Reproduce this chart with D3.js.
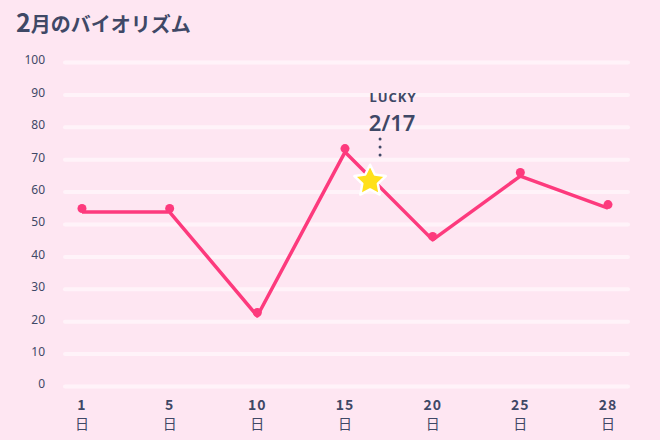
<!DOCTYPE html>
<html>
<head>
<meta charset="utf-8">
<script src="https://cdn.jsdelivr.net/npm/d3@7"></script>
<style>
  body { margin:0; background:#fee6f2; }
  svg { display:block; }
</style>
</head>
<body>
<div id="chart"></div>
<script>
// 2月のバイオリズム
var days = ["1", "5", "10", "15", "20", "25", "28"];
var values = [53.7, 53.7, 21.6, 72.2, 45.1, 64.8, 54.9];
var yTicks = [0, 10, 20, 30, 40, 50, 60, 70, 80, 90, 100];
var luckyDay = 17;

var width = 660, height = 440;
var ink = "#3f4866", pink = "#fd3a7d";

var svg = d3.select("#chart")
			.append("svg")
			.attr("width", width)
			.attr("height", height);

svg.append("rect")
	.attr("width", width)
	.attr("height", height)
	.style("fill", "#fee6f2");

// title
var title = svg.append("text")
			.attr("x", 16)
			.attr("y", 32)
			.style("fill", ink)
			.style("font-family", "'Noto Sans CJK JP', sans-serif")
			.style("font-weight", "bold");
title.append("tspan").text("2").style("font-size", "25px");
title.append("tspan").text("月のバイオリズム").style("font-size", "20px");

var x = d3.scalePoint()
		.domain(days)
		.range([82, 608]);
var y = d3.scaleLinear()
		.domain([0, 100])
		.range([386, 62]);

// grid + y labels
var yAxis = svg.append("g")
		.attr("transform", "translate(65,0)")
		.call(d3.axisLeft(y).tickValues(yTicks).tickSize(-563).tickPadding(20));
yAxis.select(".domain").remove();
yAxis.selectAll("line")
	.style("stroke", "#fff3f9")
	.style("stroke-width", 4)
	.style("stroke-linecap", "round");
yAxis.selectAll("text")
	.attr("dy", "0.15em")
	.style("fill", ink)
	.style("font-family", "'Noto Sans', sans-serif")
	.style("font-size", "12px");

// x labels: number on top, 日 underneath
var xl = svg.append("g").selectAll("g")
		.data(days)
		.enter().append("g")
		.style("fill", ink)
		.style("font-family", "'Noto Sans CJK JP', sans-serif");
xl.append("text")
	.attr("x", function(d){ return x(d); })
	.attr("y", 410)
	.attr("text-anchor", "middle")
	.style("font-size", "14px")
	.style("font-weight", "bold")
	.style("letter-spacing", "1px")
	.text(function(d){ return d; });
xl.append("text")
	.attr("x", function(d){ return x(d); })
	.attr("y", 429)
	.attr("text-anchor", "middle")
	.style("font-size", "14px")
	.text("日");

// line
var line = d3.line()
		.x(function(d, i){ return x(days[i]); })
		.y(function(d){ return y(d); });
svg.append("path")
	.datum(values)
	.attr("d", line)
	.style("fill", "none")
	.style("stroke", pink)
	.style("stroke-width", 3.5)
	.style("stroke-linejoin", "round");

svg.append("g").selectAll("circle")
	.data(values)
	.enter().append("circle")
	.attr("cx", function(d, i){ return x(days[i]); })
	.attr("cy", function(d){ return y(d) - 3.5; })
	.attr("r", 4.5)
	.style("fill", pink);

// lucky star, placed on the line between 15 and 20
var i0 = days.indexOf("15"), i1 = days.indexOf("20");
var t = (luckyDay - 15) / (20 - 15);
var sx = x(days[i0]) + t * (x(days[i1]) - x(days[i0]));
var sy = y(values[i0] + t * (values[i1] - values[i0])) - 6;

var starPts = d3.range(10).map(function(k){
	return [k * Math.PI / 5, k % 2 ? 8.2 : 16.5];
});
svg.append("path")
	.attr("transform", "translate(" + (sx - 10) + "," + sy + ")")
	.attr("d", d3.lineRadial().curve(d3.curveLinearClosed)(starPts))
	.style("fill", "#ffe01b")
	.style("stroke", "#fff")
	.style("stroke-width", 2.5)
	.style("stroke-linejoin", "round");

svg.append("g").selectAll("circle")
	.data([0, 1, 2])
	.enter().append("circle")
	.attr("cx", sx)
	.attr("cy", function(d){ return 139 + d * 8; })
	.attr("r", 1.5)
	.style("fill", ink);

svg.append("text")
	.attr("x", sx + 13)
	.attr("y", 102)
	.attr("text-anchor", "middle")
	.text("LUCKY")
	.style("fill", ink)
	.style("font-family", "'Noto Sans', sans-serif")
	.style("font-weight", "bold")
	.style("font-size", "13px")
	.style("letter-spacing", "1px");
svg.append("text")
	.attr("x", sx + 12)
	.attr("y", 131)
	.attr("text-anchor", "middle")
	.text("2/17")
	.style("fill", ink)
	.style("font-family", "'Noto Sans', sans-serif")
	.style("font-weight", "600")
	.style("font-size", "22px");
</script>
</body>
</html>
